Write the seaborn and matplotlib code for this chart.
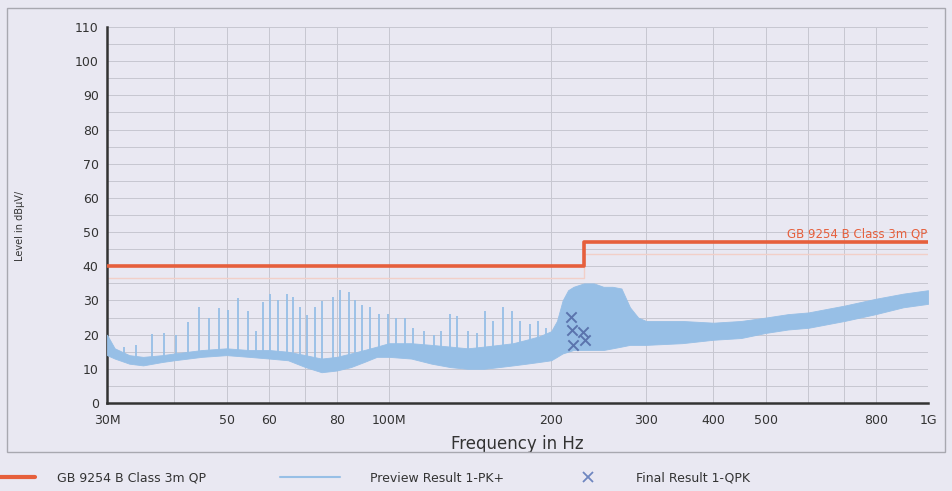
import numpy as np
import pandas as pd
import matplotlib
matplotlib.use("Agg")
import matplotlib.pyplot as plt
from matplotlib.patches import Rectangle
from matplotlib.ticker import FixedLocator, NullLocator, NullFormatter
import seaborn as sns

# ---------------- data (MHz, dBuV/m) ----------------
limit_freq = [30, 230, 230, 1000]
limit_level = [40, 40, 47, 47]
limit_margin = [36.5, 36.5, 43.5, 43.5]

band_freq = [30, 31, 33, 35, 38, 40, 45, 50, 55, 60, 65, 70, 75, 80, 85, 90, 95, 100,
             110, 120, 130, 140, 150, 160, 170, 180, 190, 200, 205, 210, 215, 220, 230,
             240, 250, 260, 270, 280, 290, 300, 350, 400, 450, 500, 550, 600, 700, 800,
             900, 1000]
band_lo = [14, 13, 11.5, 11, 12, 12.5, 13.5, 14, 13.5, 13, 12.5, 10.5, 9, 9.5, 10.5, 12,
           13.5, 13.5, 13, 11.5, 10.5, 10, 10, 10.5, 11, 11.5, 12, 12.5, 13.5, 14.5, 15,
           15.5, 15.5, 15.5, 15.5, 16, 16.5, 17, 17, 17, 17.5, 18.5, 19, 20.5, 21.5, 22,
           24, 26, 28, 29]
band_hi = [20, 16, 14, 13.5, 14, 14.5, 15.5, 16, 15.5, 15.5, 15, 14, 13, 13.5, 14.5, 15.5,
           16.5, 17.5, 17.5, 17, 16.5, 16, 16.5, 17, 17.5, 18.5, 19.5, 21, 24, 30, 33, 34,
           35, 35, 34, 34, 33.5, 28, 25, 24, 24, 23.5, 24, 25, 26, 26.5, 28.5, 30.5, 32, 33]

spike_freq = [32.3, 34.0, 36.3, 38.2, 40.3, 42.4, 44.5, 46.4, 48.3, 50.4, 52.6, 54.8,
              56.6, 58.5, 60.1, 62.4, 64.7, 66.3, 68.5, 70.6, 73.0, 75.2, 78.6, 81.3,
              84.2, 86.5, 89.2, 92.4, 95.7, 99.6, 103, 107, 111, 116, 121, 125, 130,
              134, 140, 146, 151, 156, 163, 169, 175, 183, 189, 196]
spike_top = [16.4, 17, 20.2, 20.5, 19.9, 23.7, 28, 25, 27.7, 27.2, 30.6, 27, 21, 29.5,
             32, 30, 32, 31, 28, 25.7, 28, 29.8, 31, 33, 32.5, 30, 28.6, 28, 26, 26, 25,
             25, 22, 21, 20, 21, 26, 25.5, 21, 20.5, 27, 24, 28, 27, 24, 23, 24, 22]

final_freq = [218, 219, 229, 231, 220]
final_level = [25.2, 21.3, 20.7, 18.4, 16.9]

xtick_pos = [30, 40, 50, 60, 70, 80, 100, 200, 300, 400, 500, 600, 700, 800, 1000]
xtick_lab = ["30M", "", "50", "60", "", "80", "100M", "200", "300", "400", "500", "",
             "", "800", "1G"]
ytick_pos = list(range(0, 111, 5))
ytick_lab = [str(v) if v % 10 == 0 else "" for v in ytick_pos]

legend_labels = ["GB 9254 B Class 3m QP", "Preview Result 1-PK+", "Final Result 1-QPK"]

# ---------------- style ----------------
bg = "#e9e8f2"
sns.set_theme(style="white")
plt.rcParams["font.family"] = ["DejaVu Sans"]

W, H = 953, 491
fig = plt.figure(figsize=(W / 100, H / 100), dpi=100, facecolor=bg)
ax = fig.add_axes([107 / W, (H - 403) / H, (928 - 107) / W, (403 - 27) / H])
ax.set_facecolor(bg)

trace_c = "#97bfe6"
limit_c = "#e65f3c"
txt_c = "#333333"

# preview trace: band + spikes
ax.fill_between(band_freq, band_lo, band_hi, color=trace_c, lw=0.6, zorder=3)
base = np.interp(spike_freq, band_freq, band_lo)
ax.vlines(spike_freq, base, spike_top, color=trace_c, lw=1.3, zorder=3)

# limit lines
lim_df = pd.DataFrame({"f": limit_freq, "lvl": limit_level, "m": limit_margin})
sns.lineplot(data=lim_df, x="f", y="m", estimator=None, sort=False, ax=ax,
             color="#f2cfc8", lw=1.0, zorder=2)
sns.lineplot(data=lim_df, x="f", y="lvl", estimator=None, sort=False, ax=ax,
             color=limit_c, lw=2.6, zorder=5)

# final results
sns.scatterplot(x=final_freq, y=final_level, marker="x", s=55, color="#5b74ad",
                linewidth=1.4, ax=ax, zorder=6)

ax.set_xscale("log")
ax.set_xlim(30, 1000)
ax.set_ylim(0, 110)
ax.xaxis.set_major_locator(FixedLocator(xtick_pos))
ax.xaxis.set_minor_locator(NullLocator())
ax.set_xticklabels(xtick_lab)
ax.xaxis.set_minor_formatter(NullFormatter())
ax.set_yticks(ytick_pos)
ax.set_yticklabels(ytick_lab)

ax.grid(True, which="major", color="#c6c6d0", lw=0.7, zorder=0)
ax.set_axisbelow(True)
for s in ["top", "right"]:
    ax.spines[s].set_visible(False)
for s in ["left", "bottom"]:
    ax.spines[s].set_color(txt_c)
    ax.spines[s].set_linewidth(1.8)
ax.tick_params(axis="both", direction="inout", length=8, width=1.6, color=txt_c,
               labelsize=9, labelcolor=txt_c)
ax.tick_params(axis="x", pad=4)
ax.tick_params(axis="y", pad=2)

ax.set_xlabel("Frequency in Hz", fontsize=12, color=txt_c, labelpad=6)
ax.set_ylabel("Level in dBµV/", fontsize=7, color=txt_c, labelpad=0)
ax.yaxis.set_label_coords(-0.1, 0.47)

ax.text(995, 47.6, "GB 9254 B Class 3m QP", color=limit_c, fontsize=8.5,
        ha="right", va="bottom", zorder=7)

# frame
fig.patches.append(Rectangle((7 / W, (H - 452) / H), (945 - 7) / W, (452 - 8) / H,
                             transform=fig.transFigure, fill=False,
                             edgecolor="#a8a8b0", lw=1.0))

# legend (three entries placed like the original)
h1 = plt.Line2D([], [], color=limit_c, lw=3)
h2 = plt.Line2D([], [], color=trace_c, lw=1.5)
h3 = plt.Line2D([], [], color="#6f86c0", marker="x", ls="none", ms=7, mew=1.3)
ly = (H - 478) / H
for h, lab, x0, hl, tp in [(h1, legend_labels[0], -25, 4.8, 1.8),
                           (h2, legend_labels[1], 280, 4.8, 2.4),
                           (h3, legend_labels[2], 575, 2.0, 2.9)]:
    fig.legend([h], [lab], loc="center left", bbox_to_anchor=(x0 / W, ly),
               frameon=False, fontsize=9, handlelength=hl, handletextpad=tp,
               borderpad=0, borderaxespad=0, labelcolor=txt_c)

fig.savefig("out.png", dpi=100, facecolor=bg)
